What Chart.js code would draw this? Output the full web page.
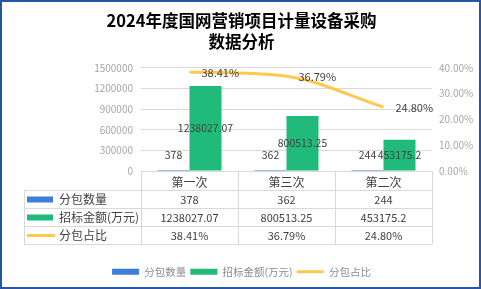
<!DOCTYPE html>
<html><head><meta charset="utf-8">
<script src="https://cdn.jsdelivr.net/npm/chart.js@4"></script>
<style>html,body{margin:0;padding:0;background:#fff;overflow:hidden}</style>
</head><body>
<canvas id="c" width="481" height="289"></canvas>
<script>
const categories = ['第一次', '第三次', '第二次'];
const countValues = [378, 362, 244];
const amountValues = [1238027.07, 800513.25, 453175.2];
const shareValues = [38.41, 36.79, 24.80];
const leftTicks = [0, 300000, 600000, 900000, 1200000, 1500000];
const rightTicks = [0, 10, 20, 30, 40];
const seriesNames = ['分包数量', '招标金额(万元)', '分包占比'];
const titleLines = ['2024年度国网营销项目计量设备采购', '数据分析'];

const FONT = '"Noto Sans CJK SC", "Noto Sans", sans-serif';
const BLUE = '#3C7FDB', GREEN = '#20BA7B', YELLOW = '#FFC94D';
const TEXT = '#404040', GRID = '#D9D9D9', AXIS = '#A6A6A6';
const fmtPct = v => v.toFixed(2) + '%';

const tablePlugin = {
  id: 'tablePlugin',
  afterDatasetsDraw(chart) {
    const ctx = chart.ctx;
    ctx.save();
    ctx.fillStyle = TEXT;
    ctx.font = '10.5px ' + FONT;
    ctx.textBaseline = 'middle';
    ctx.textAlign = 'center';
    const m0 = chart.getDatasetMeta(0), m1 = chart.getDatasetMeta(1), m2 = chart.getDatasetMeta(2);
    m0.data.forEach((b, i) => ctx.fillText(String(countValues[i]), b.x, b.base - 15));
    m1.data.forEach((b, i) => ctx.fillText(String(amountValues[i]), b.x, (b.y + b.base) / 2));
    ctx.font = '11px ' + FONT;
    ctx.textAlign = 'left';
    m2.data.forEach((p, i) => ctx.fillText(fmtPct(shareValues[i]), p.x + 12, p.y + 1));
    ctx.restore();
  },
  afterDraw(chart) {
    const ctx = chart.ctx;
    const { left, right, bottom } = chart.chartArea;
    const n = categories.length;
    const colW = (right - left) / n;
    const tLeft = left - 117;
    const rows = [bottom + 19, bottom + 37, bottom + 55, bottom + 73];
    ctx.save();
    ctx.strokeStyle = GRID;
    ctx.lineWidth = 1;
    ctx.beginPath();
    ctx.moveTo(left, Math.round(bottom) + 0.5); ctx.lineTo(right, Math.round(bottom) + 0.5);
    rows.forEach(y => { ctx.moveTo(tLeft, Math.round(y) + 0.5); ctx.lineTo(right, Math.round(y) + 0.5); });
    for (let i = 0; i <= n; i++) {
      const x = Math.round(left + i * colW) + 0.5;
      ctx.moveTo(x, bottom); ctx.lineTo(x, rows[3] + 0.5);
    }
    ctx.moveTo(tLeft + 0.5, rows[0]); ctx.lineTo(tLeft + 0.5, rows[3] + 0.5);
    ctx.stroke();

    const series = [countValues.map(String), amountValues.map(String), shareValues.map(fmtPct)];
    const colors = [BLUE, GREEN, YELLOW];
    for (let r = 0; r < 3; r++) {
      const yc = (rows[r] + rows[r + 1]) / 2 + 0.5;
      if (r < 2) {
        ctx.fillStyle = colors[r];
        ctx.fillRect(tLeft + 3, yc - 3, 26, 6);
      } else {
        ctx.strokeStyle = colors[r];
        ctx.lineWidth = 3;
        ctx.beginPath(); ctx.moveTo(tLeft + 3, yc); ctx.lineTo(tLeft + 31, yc); ctx.stroke();
      }
      ctx.fillStyle = TEXT;
      ctx.font = '12px ' + FONT;
      ctx.textAlign = 'left';
      ctx.textBaseline = 'middle';
      ctx.fillText(seriesNames[r], tLeft + 35, yc);
      ctx.font = '11px ' + FONT;
      ctx.textAlign = 'center';
      for (let i = 0; i < n; i++) ctx.fillText(series[r][i], left + (i + 0.5) * colW, yc);
    }
    ctx.strokeStyle = '#2A55A5';
    ctx.lineWidth = 2;
    ctx.strokeRect(1, 1, chart.width - 2, chart.height - 2);
    ctx.restore();
  }
};

new Chart(document.getElementById('c'), {
  data: {
    labels: categories,
    datasets: [
      { type: 'bar', label: seriesNames[0], data: countValues, yAxisID: 'y', backgroundColor: BLUE, order: 1, inflateAmount: 0 },
      { type: 'bar', label: seriesNames[1], data: amountValues, yAxisID: 'y', backgroundColor: GREEN, order: 1, inflateAmount: 0 },
      { type: 'line', label: seriesNames[2], data: shareValues, yAxisID: 'y1', borderColor: YELLOW, backgroundColor: YELLOW,
        borderWidth: 3, cubicInterpolationMode: 'monotone', pointRadius: 0, order: 0 }
    ]
  },
  options: {
    responsive: false, animation: false, devicePixelRatio: 1,
    layout: { padding: { left: 4, right: 2, top: 0, bottom: 2 } },
    datasets: { bar: { barPercentage: 1, categoryPercentage: 0.66 } },
    scales: {
      x: {
        grid: { display: false, drawTicks: false }, border: { display: false },
        ticks: { color: TEXT, font: { family: FONT, size: 12 }, padding: 4, maxRotation: 0 },
        afterFit: s => { s.height = 91.5; }
      },
      y: {
        position: 'left', min: 0, max: 1500000,
        afterBuildTicks: s => { s.ticks = leftTicks.map(v => ({ value: v })); },
        ticks: { color: AXIS, font: { family: FONT, size: 10 }, padding: 8, callback: v => String(v) },
        grid: { color: GRID, drawTicks: false }, border: { display: false },
        afterFit: s => { s.width = 137; }
      },
      y1: {
        position: 'right', min: 0, max: 40,
        afterBuildTicks: s => { s.ticks = rightTicks.map(v => ({ value: v })); },
        ticks: { color: AXIS, font: { family: FONT, size: 10 }, padding: 7, callback: v => fmtPct(v) },
        grid: { drawOnChartArea: false, drawTicks: false }, border: { display: false },
        afterFit: s => { s.width = 47; }
      }
    },
    plugins: {
      title: {
        display: true, text: titleLines, color: '#000',
        font: { family: FONT, size: 16.5, weight: 'bold', lineHeight: 1.3 },
        padding: { top: 10, bottom: 15 }
      },
      legend: {
        position: 'bottom',
        labels: {
          usePointStyle: true, pointStyleWidth: 27, boxHeight: 6, padding: 4,
          color: '#8C8C8C', font: { family: FONT, size: 10.5 },
          generateLabels: chart => chart.data.datasets.map((d, i) => ({
            text: d.label, fillStyle: d.backgroundColor, strokeStyle: d.type === 'line' ? d.borderColor : d.backgroundColor,
            lineWidth: d.type === 'line' ? 3 : 0, pointStyle: d.type === 'line' ? 'line' : 'rect',
            fontColor: '#8C8C8C', datasetIndex: i, hidden: false
          }))
        }
      },
      tooltip: { enabled: false }
    }
  },
  plugins: [tablePlugin]
});
</script>
</body></html>
